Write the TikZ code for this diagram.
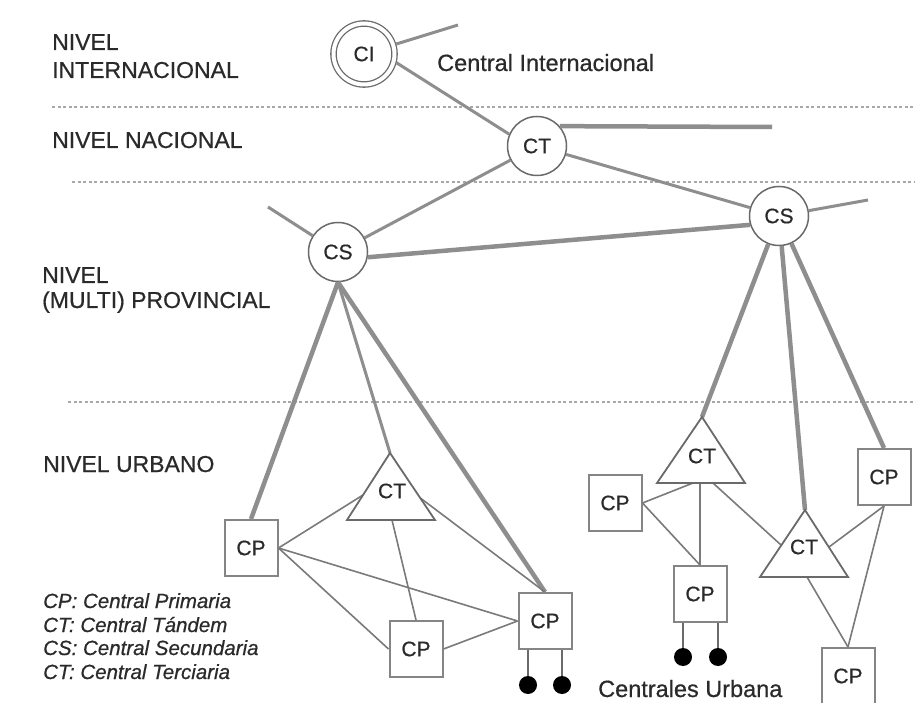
\documentclass[tikz,border=0pt]{standalone}
\usepackage{fontspec}
\setmainfont{Liberation Sans}[FakeBold=0.6]
\definecolor{ink}{HTML}{2A2A2A}
\definecolor{wire}{HTML}{8E8E8E}
\definecolor{thinwire}{HTML}{7A7A7A}
\definecolor{rim}{HTML}{6A6A6A}
\definecolor{boxc}{HTML}{858585}
\definecolor{levelc}{HTML}{A8A8A8}
\begin{document}
\begin{tikzpicture}[x=1pt,y=-1pt,
  lvl/.style={anchor=base west, inner sep=0pt, text=ink, font=\fontsize{23}{23}\selectfont},
  note/.style={anchor=base west, inner sep=0pt, text=ink, font=\fontsize{23.5}{23.5}\selectfont},
  legend/.style={anchor=base west, inner sep=0pt, text=ink, font=\fontsize{20.5}{20.5}\selectfont\itshape},
  exch/.style={circle, draw=rim, line width=1.5pt, fill=white, minimum size=59pt, inner sep=0pt,
    text=ink, font=\fontsize{21}{21}\selectfont},
  intl/.style={exch, double=white, double distance=4pt, line width=1.3pt, minimum size=61pt, outer sep=3pt},
  primary/.style={rectangle, draw=boxc, line width=2pt, fill=white, minimum width=53pt,
    minimum height=56pt, inner sep=0pt, text=ink, font=\fontsize{21}{21}\selectfont},
  tandem/.style={draw=rim, line width=1.8pt, line join=miter, fill=white},
  tlabel/.style={inner sep=0pt, text=ink, font=\fontsize{21}{21}\selectfont},
  trunk/.style={draw=wire, line width=4.5pt},
  link/.style={draw=wire, line width=3pt},
  local/.style={draw=thinwire, line width=1.6pt},
  stem/.style={draw=rim, line width=2.2pt},
  levelline/.style={draw=levelc, line width=1.3pt, dash pattern=on 3pt off 2.5pt},
  sub/.style={circle, fill=black, minimum size=18pt, inner sep=0pt}]

% canvas
\path[fill=white, use as bounding box] (0,0) rectangle (924,703);

% level separators
\coordinate (d1a) at (52,107);  \coordinate (d1b) at (915,107);
\coordinate (d2a) at (72,182);  \coordinate (d2b) at (915,182);
\coordinate (d3a) at (68,402);  \coordinate (d3b) at (915,402);
\draw[levelline] (d1a) -- (d1b);
\draw[levelline] (d2a) -- (d2b);
\draw[levelline] (d3a) -- (d3b);

% level names
\node[lvl] (lv1a) at (52,50) {NIVEL};
\node[lvl] (lv1b) at (52,78) {INTERNACIONAL};
\node[lvl] (lv2) at (52,148) {NIVEL NACIONAL};
\node[lvl] (lv3a) at (42,283) {NIVEL};
\node[lvl] (lv3b) at (42,308) {(MULTI) PROVINCIAL};
\node[lvl] (lv4) at (43,472) {NIVEL URBANO};

% exchanges
\node[intl] (ci) at (364,54) {CI};
\node[exch] (ct) at (537,146) {CT};
\node[exch] (csl) at (338,252) {CS};
\node[exch] (csr) at (779,216) {CS};

\node[primary] (cp1) at (251,548) {CP};
\node[primary] (cp2) at (416,649) {CP};
\node[primary] (cp3) at (545,621) {CP};
\node[primary] (cp4) at (615,503) {CP};
\node[primary] (cp5) at (700,594) {CP};
\node[primary] (cp6) at (884,477) {CP};
\node[primary] (cp7) at (848,676) {CP};

% tandem triangles: corners and attachment points
\coordinate (t1a) at (390,453); \coordinate (t1l) at (347,520); \coordinate (t1r) at (435,520);
\coordinate (t1p) at (363,495); \coordinate (t1q) at (419,497); \coordinate (t1b) at (392,520);
\coordinate (t2a) at (702,417); \coordinate (t2l) at (657,483); \coordinate (t2r) at (745,483);
\coordinate (t2p) at (693,483); \coordinate (t2b) at (700,483); \coordinate (t2q) at (713,483);
\coordinate (t3a) at (805,510); \coordinate (t3l) at (760,577); \coordinate (t3r) at (848,577);
\coordinate (t3p) at (781,545); \coordinate (t3q) at (829,547); \coordinate (t3b) at (807,577);

% open trunk ends
\coordinate (cistub) at (458,25);
\coordinate (ctstub) at (772,127);
\coordinate (cslstub) at (268,207);
\coordinate (csrstub) at (868,200);

% upper hierarchy
\draw[link] (ci.-15) -- (ct.157);
\draw[link] (ci) -- (cistub);
\draw[trunk] (ct.41) -- (ctstub);
\draw[link] (ct) -- (csl);
\draw[link] (ct) -- (csr);
\draw[link] (csl) -- (cslstub);
\draw[link] (csr) -- (csrstub);
\draw[trunk] (csl.-10) -- (csr.197);

% secondary to urban level
\draw[trunk] (csl.south) -- (cp1.north);
\draw[link] (csl.south) -- (t1a);
\draw[trunk] (csl.south) -- (cp3.north);
\draw[trunk] (csr) -- (t2a);
\draw[trunk] (csr) -- (t3a);
\draw[trunk] (csr) -- (cp6.north);

% urban meshes
\draw[local] (cp1.east) -- (t1p);
\draw[local] (cp1.east) -- (cp2.west);
\draw[local] (cp1.east) -- (cp3.west);
\draw[local] (cp2.east) -- (cp3.west);
\draw[local] (t1b) -- (cp2.north);
\draw[local] (t1q) -- (cp3.north);

\draw[local] (cp4.east) -- (t2p);
\draw[local] (cp4.east) -- (cp5.north);
\draw[local] (t2b) -- (cp5.north);
\draw[local] (t2q) -- (t3p);
\draw[local] (cp6.south) -- (t3q);
\draw[local] (cp6.south) -- (cp7.north);
\draw[local] (t3b) -- (cp7.north);

% tandem exchanges
\draw[tandem] (t1a) -- (t1r) -- (t1l) -- cycle;
\draw[tandem] (t2a) -- (t2r) -- (t2l) -- cycle;
\draw[tandem] (t3a) -- (t3r) -- (t3l) -- cycle;
\node[tlabel] (t1) at (392,491) {CT};
\node[tlabel] (t2) at (702,456) {CT};
\node[tlabel] (t3) at (804,547) {CT};

% subscriber lines
\node[sub] (s1) at (528,685) {};
\node[sub] (s2) at (562,685) {};
\node[sub] (s3) at (683,657) {};
\node[sub] (s4) at (718,657) {};
\draw[stem] (s1) -- (s1 |- cp3.south);
\draw[stem] (s2) -- (s2 |- cp3.south);
\draw[stem] (s3) -- (s3 |- cp5.south);
\draw[stem] (s4) -- (s4 |- cp5.south);

% captions
\node[note] (cilabel) at (437,71) {Central Internacional};
\node[note] (urbana) at (598,697) {Centrales Urbana};

\node[legend] (lg1) at (43,608) {CP: Central Primaria};
\node[legend] (lg2) at (43,632) {CT: Central Tándem};
\node[legend] (lg3) at (43,655) {CS: Central Secundaria};
\node[legend] (lg4) at (43,679) {CT: Central Terciaria};

\end{tikzpicture}
\end{document}
